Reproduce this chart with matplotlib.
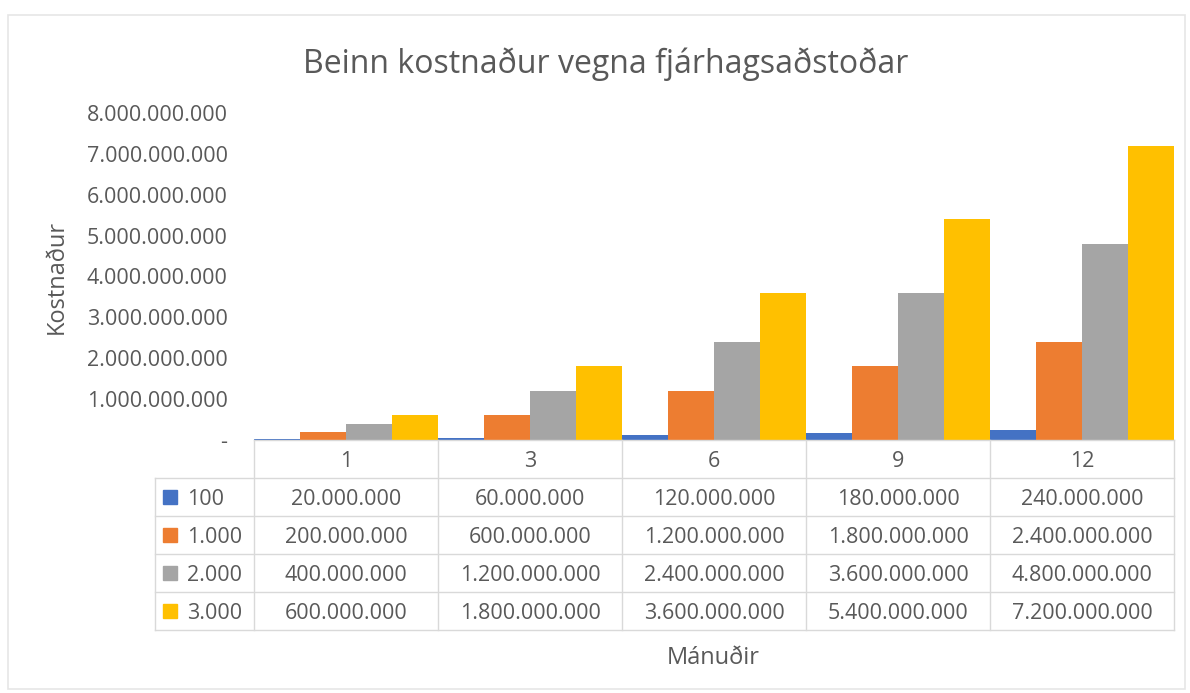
import numpy as np
import matplotlib.pyplot as plt
from matplotlib.lines import Line2D
from matplotlib.patches import Rectangle

plt.rcParams['font.family'] = ['Open Sans', 'DejaVu Sans']

# data
months = ['1', '3', '6', '9', '12']
series_names = ['100', '1.000', '2.000', '3.000']
cost_100 = [20e6, 60e6, 120e6, 180e6, 240e6]
cost_1000 = [200e6, 600e6, 1200e6, 1800e6, 2400e6]
cost_2000 = [400e6, 1200e6, 2400e6, 3600e6, 4800e6]
cost_3000 = [600e6, 1800e6, 3600e6, 5400e6, 7200e6]
y_ticks = [0, 1e9, 2e9, 3e9, 4e9, 5e9, 6e9, 7e9, 8e9]

colors = ['#4472C4', '#ED7D31', '#A5A5A5', '#FFC000']
text_col = '#595959'
grid_col = '#D9D9D9'

W, H = 1190, 693
fs = 15.5
text_shift = 2.5  # px, nudges text down to sit centred in the cells


def fx(x):
    return x / W


def fy(y):
    return 1 - y / H


def fmt(v):
    if v == 0:
        return '-'
    return f'{int(v):,}'.replace(',', '.')


fig = plt.figure(figsize=(W / 100, H / 100), dpi=100)

# plot area in pixel coordinates
left, right, top, bottom = 254, 1174, 113, 440
ax = fig.add_axes([fx(left), fy(bottom), fx(right - left), fy(top) - fy(bottom)])

all_series = [cost_100, cost_1000, cost_2000, cost_3000]
x = np.arange(len(months))
bw = 0.25
for i, vals in enumerate(all_series):
    ax.bar(x + (i - 1.5) * bw, vals, width=bw, color=colors[i])

ax.set_xlim(-0.5, len(months) - 0.5)
ax.set_ylim(0, 8e9)
ax.set_yticks(y_ticks)
ax.set_yticklabels([fmt(v) for v in y_ticks], fontsize=fs, color=text_col)
ax.tick_params(axis='y', length=0, pad=19)
ax.set_xticks([])
for s in ax.spines.values():
    s.set_visible(False)

# title and axis labels
fig.text(fx(606), fy(62 + text_shift), 'Beinn kostnaður vegna fjárhagsaðstoðar',
         ha='center', va='center', fontsize=23, color=text_col)
fig.text(fx(57), fy(277), 'Kostnaður', rotation=90, ha='center', va='center',
         fontsize=17, color=text_col)
fig.text(fx(713), fy(655 + text_shift), 'Mánuðir', ha='center', va='center',
         fontsize=17, color=text_col)

# data table below the plot
col_edges = [left + i * (right - left) / len(months) for i in range(len(months) + 1)]
row_edges = [440, 478, 516, 554, 592, 630]
label_left = 155

for xe in col_edges:
    fig.add_artist(Line2D([fx(xe), fx(xe)], [fy(row_edges[0]), fy(row_edges[-1])],
                          color=grid_col, lw=1))
fig.add_artist(Line2D([fx(label_left), fx(label_left)], [fy(row_edges[1]), fy(row_edges[-1])],
                      color=grid_col, lw=1))
fig.add_artist(Line2D([fx(left), fx(right)], [fy(row_edges[0]), fy(row_edges[0])],
                      color=grid_col, lw=1))
for ye in row_edges[1:]:
    fig.add_artist(Line2D([fx(label_left), fx(right)], [fy(ye), fy(ye)],
                          color=grid_col, lw=1))

# header row
for j, m in enumerate(months):
    cx = (col_edges[j] + col_edges[j + 1]) / 2
    cy = (row_edges[0] + row_edges[1]) / 2 + text_shift
    fig.text(fx(cx), fy(cy), m, ha='center', va='center', fontsize=fs, color=text_col)

# series rows
for i, vals in enumerate(all_series):
    cy = (row_edges[i + 1] + row_edges[i + 2]) / 2
    fig.add_artist(Rectangle((fx(163), fy(cy + 7)), fx(14), fy(cy - 7) - fy(cy + 7),
                             color=colors[i], transform=fig.transFigure))
    ty = cy + text_shift
    fig.text(fx(187), fy(ty), series_names[i], ha='left', va='center',
             fontsize=fs, color=text_col)
    for j, v in enumerate(vals):
        cx = (col_edges[j] + col_edges[j + 1]) / 2
        fig.text(fx(cx), fy(ty), fmt(v), ha='center', va='center',
                 fontsize=fs, color=text_col)

# chart frame
fig.add_artist(Rectangle((fx(8), fy(689)), fx(1177), fy(15) - fy(689),
                         fill=False, edgecolor='#E6E6E6', lw=1.2, transform=fig.transFigure))

fig.savefig('out.png', dpi=100)
